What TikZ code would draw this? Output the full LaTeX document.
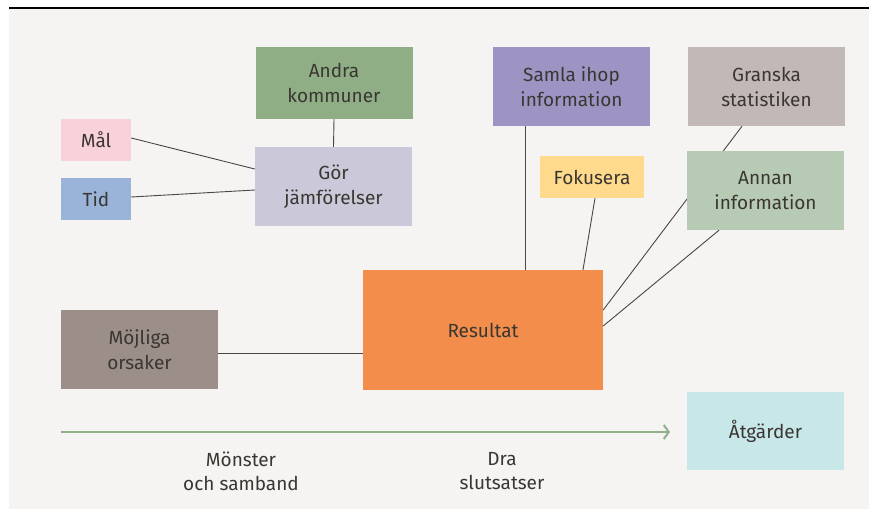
\documentclass[tikz,border=0pt]{standalone}
\usepackage{fontspec}
\setmainfont{Fira Sans}
\usetikzlibrary{arrows.meta}
\definecolor{bg}{HTML}{F5F4F2}
\definecolor{txt}{HTML}{3A3632}
\definecolor{ln}{HTML}{4A4744}
\definecolor{cAndra}{HTML}{8FAE85}
\definecolor{cSamla}{HTML}{9D94C4}
\definecolor{cGranska}{HTML}{C2B8B5}
\definecolor{cMal}{HTML}{F9D1D8}
\definecolor{cTid}{HTML}{99B3D9}
\definecolor{cGor}{HTML}{CBC9D9}
\definecolor{cFok}{HTML}{FFD98C}
\definecolor{cAnnan}{HTML}{B7CAB3}
\definecolor{cRes}{HTML}{F28D4C}
\definecolor{cMoj}{HTML}{9C8E88}
\definecolor{cAtg}{HTML}{C8E7E9}
\definecolor{cArrow}{HTML}{8FB08A}
\tikzset{
  box/.style={rectangle, inner sep=0pt, align=center, text=txt,
    font=\fontsize{19}{25}\selectfont},
  conn/.style={draw=ln, line width=0.9pt},
  lbl/.style={align=center, text=txt, font=\fontsize{19}{24}\selectfont},
}
\begin{document}
\begin{tikzpicture}[x=1pt,y=-1pt]
\useasboundingbox (0,0) rectangle (870,509);
\fill[bg] (9,9) rectangle (869,509);
\draw[black, line width=1.6pt] (9,8) -- (869,8);
\node[box, fill=cAndra, minimum width=157pt, minimum height=72pt] (andra) at (334,83) {Andra\\kommuner};
\node[box, fill=cSamla, minimum width=157pt, minimum height=79pt] (samla) at (571.5,86.5) {Samla ihop\\information};
\node[box, fill=cGranska, minimum width=157pt, minimum height=79pt] (granska) at (766.5,86.5) {Granska\\statistiken};
\node[box, fill=cMal, minimum width=70pt, minimum height=42pt] (mal) at (96,140) {Mål};
\node[box, fill=cTid, minimum width=70pt, minimum height=42pt] (tid) at (96,199) {Tid};
\node[box, fill=cGor, minimum width=157pt, minimum height=79pt] (gor) at (333.5,186.5) {Gör\\jämförelser};
\node[box, fill=cFok, minimum width=104pt, minimum height=42pt] (fok) at (592,177) {Fokusera};
\node[box, fill=cRes, minimum width=240pt, minimum height=120pt] (res) at (483,330) {Resultat};
\node[box, fill=cMoj, minimum width=157pt, minimum height=79pt] (moj) at (139.5,349.5) {Möjliga\\orsaker};
\node[box, fill=cAtg, minimum width=157pt, minimum height=78pt] (atg) at (765.5,431) {Åtgärder};
% granska line goes under annan box
\draw[conn] ([xshift=-24.5pt]granska.south) -- ([yshift=20pt]res.east);
\node[box, fill=cAnnan, minimum width=157pt, minimum height=79pt] (annan) at (765.5,190.5) {Annan\\information};
\draw[conn] ([yshift=2pt]mal.east) -- ([yshift=17.5pt]gor.west);
\draw[conn] ([yshift=2pt]tid.east) -- ([yshift=-3.5pt]gor.west);
\draw[conn] (andra.south) -- (gor.north);
\draw[conn] ([xshift=-46.5pt]samla.south) -- ([xshift=-46.5pt]samla.south |- res.north);
\draw[conn] ([xshift=3pt]fok.south) -- ([xshift=100pt]res.north);
\draw[conn] ([xshift=-46.5pt]annan.south) -- ([yshift=4pt]res.east);
\draw[conn] ([yshift=-3.5pt]moj.east) -- ([yshift=-3.5pt]moj.east -| res.west);
% arrow
\coordinate (as) at (61,432);
\coordinate (ae) at (670,432);
\draw[cArrow, line width=2pt, -{Straight Barb[length=5pt, width=14pt, line width=2pt]}] (as) -- (ae);
\node[lbl] (monster) at (241,471) {Mönster\\och samband};
\node[lbl] (dra) at (502,471) {Dra\\slutsatser};
\end{tikzpicture}
\end{document}
